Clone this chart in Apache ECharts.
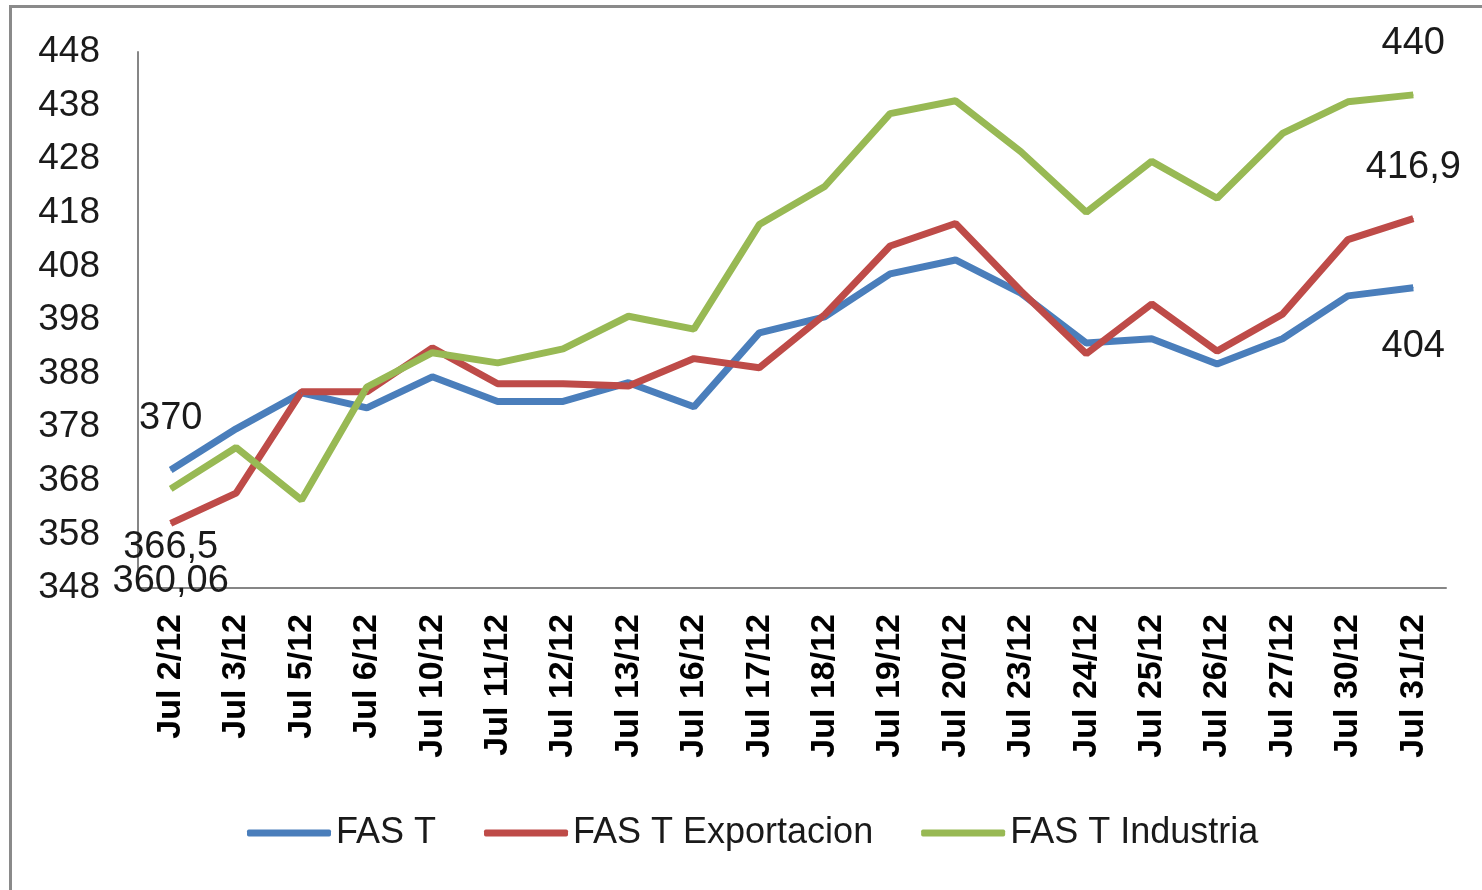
<!DOCTYPE html>
<html lang="es">
<head>
    <meta charset="utf-8">
    <title>FAS T</title>
    <script src="https://cdn.jsdelivr.net/npm/echarts@6/dist/echarts.min.js"></script>
    <style>
        html, body { margin: 0; padding: 0; background: #fff; overflow: hidden; }
        #frame { position: absolute; left: 9px; top: 5px; width: 1600px; height: 1000px;
                 border-top: 3px solid #8a8a8a; border-left: 3px solid #8a8a8a; }
        #main { position: absolute; left: 0; top: 0; width: 1482px; height: 890px; }
    </style>
</head>
<body>
<div id="frame"></div>
<div id="main"></div>
<script type="text/javascript">
    var fechas = ['Jul 2/12', 'Jul 3/12', 'Jul 5/12', 'Jul 6/12', 'Jul 10/12', 'Jul 11/12', 'Jul 12/12',
        'Jul 13/12', 'Jul 16/12', 'Jul 17/12', 'Jul 18/12', 'Jul 19/12', 'Jul 20/12', 'Jul 23/12',
        'Jul 24/12', 'Jul 25/12', 'Jul 26/12', 'Jul 27/12', 'Jul 30/12', 'Jul 31/12'];
    var fasT = [370, 377.7, 384.4, 381.6, 387.4, 382.8, 382.8, 386.3, 381.8, 395.6,
        398.6, 406.6, 409.2, 403, 393.7, 394.5, 389.8, 394.5, 402.5, 404];
    var fasTExportacion = [360.06, 365.7, 384.6, 384.6, 392.8, 386.1, 386.1, 385.7, 390.8, 389.1,
        399, 411.8, 416, 403.4, 391.7, 401, 392.2, 399.1, 413, 416.9];
    var fasTIndustria = [366.5, 374.2, 364.4, 385.5, 391.9, 390, 392.6, 398.7, 396.3, 415.8,
        422.9, 436.5, 438.9, 429.4, 418.1, 427.6, 420.7, 432.8, 438.7, 440];
    // posicion de la etiqueta en el primer y el ultimo punto
    var posiciones = {
        'FAS T': ['top', 'bottom'],
        'FAS T Exportacion': ['bottom', 'top'],
        'FAS T Industria': ['bottom', 'top']
    };

    var fuente = 'Liberation Sans';

    function armarSerie(nombre, valores, color) {
        var pos = posiciones[nombre];
        return {
            name: nombre,
            type: 'line',
            symbol: 'circle',
            symbolSize: 1,
            showAllSymbol: true,
            lineStyle: { color: color, width: 7 },
            itemStyle: { color: color },
            data: valores.map(function (v, i) {
                var item = { value: v };
                if (i === 0 || i === valores.length - 1) {
                    var p = i === 0 ? pos[0] : pos[1];
                    item.label = {
                        show: true,
                        position: p,
                        distance: p === 'top' ? 32 : 39,
                        formatter: function (d) { return String(d.value).replace('.', ','); },
                        color: '#1a1a1a',
                        fontFamily: fuente,
                        fontSize: 38
                    };
                }
                return item;
            })
        };
    }

    var myChart = echarts.init(document.getElementById('main'));
    myChart.setOption({
        animation: false,
        grid: { left: 138, right: 36, top: 52, bottom: 302 },
        legend: {
            bottom: 34,
            left: 242,
            itemWidth: 84,
            itemHeight: 7,
            itemGap: 48,
            icon: 'roundRect',
            textStyle: { fontFamily: fuente, fontSize: 36, color: '#1a1a1a' },
            data: ['FAS T', 'FAS T Exportacion', 'FAS T Industria']
        },
        xAxis: {
            type: 'category',
            data: fechas,
            boundaryGap: true,
            axisLine: { lineStyle: { color: '#868686', width: 2 } },
            axisTick: { show: false },
            axisLabel: {
                rotate: 90,
                interval: 0,
                margin: 26,
                fontFamily: fuente,
                fontWeight: 'bold',
                fontSize: 34,
                color: '#000'
            }
        },
        yAxis: {
            type: 'value',
            min: 348,
            max: 448,
            interval: 10,
            splitLine: { show: false },
            axisLine: { show: true, lineStyle: { color: '#868686', width: 2 } },
            axisTick: { show: false },
            axisLabel: {
                margin: 38,
                fontFamily: fuente,
                fontSize: 37,
                color: '#1a1a1a'
            }
        },
        series: [
            armarSerie('FAS T', fasT, '#4a7ebb'),
            armarSerie('FAS T Exportacion', fasTExportacion, '#be4b48'),
            armarSerie('FAS T Industria', fasTIndustria, '#98b954')
        ]
    });
</script>
</body>
</html>
